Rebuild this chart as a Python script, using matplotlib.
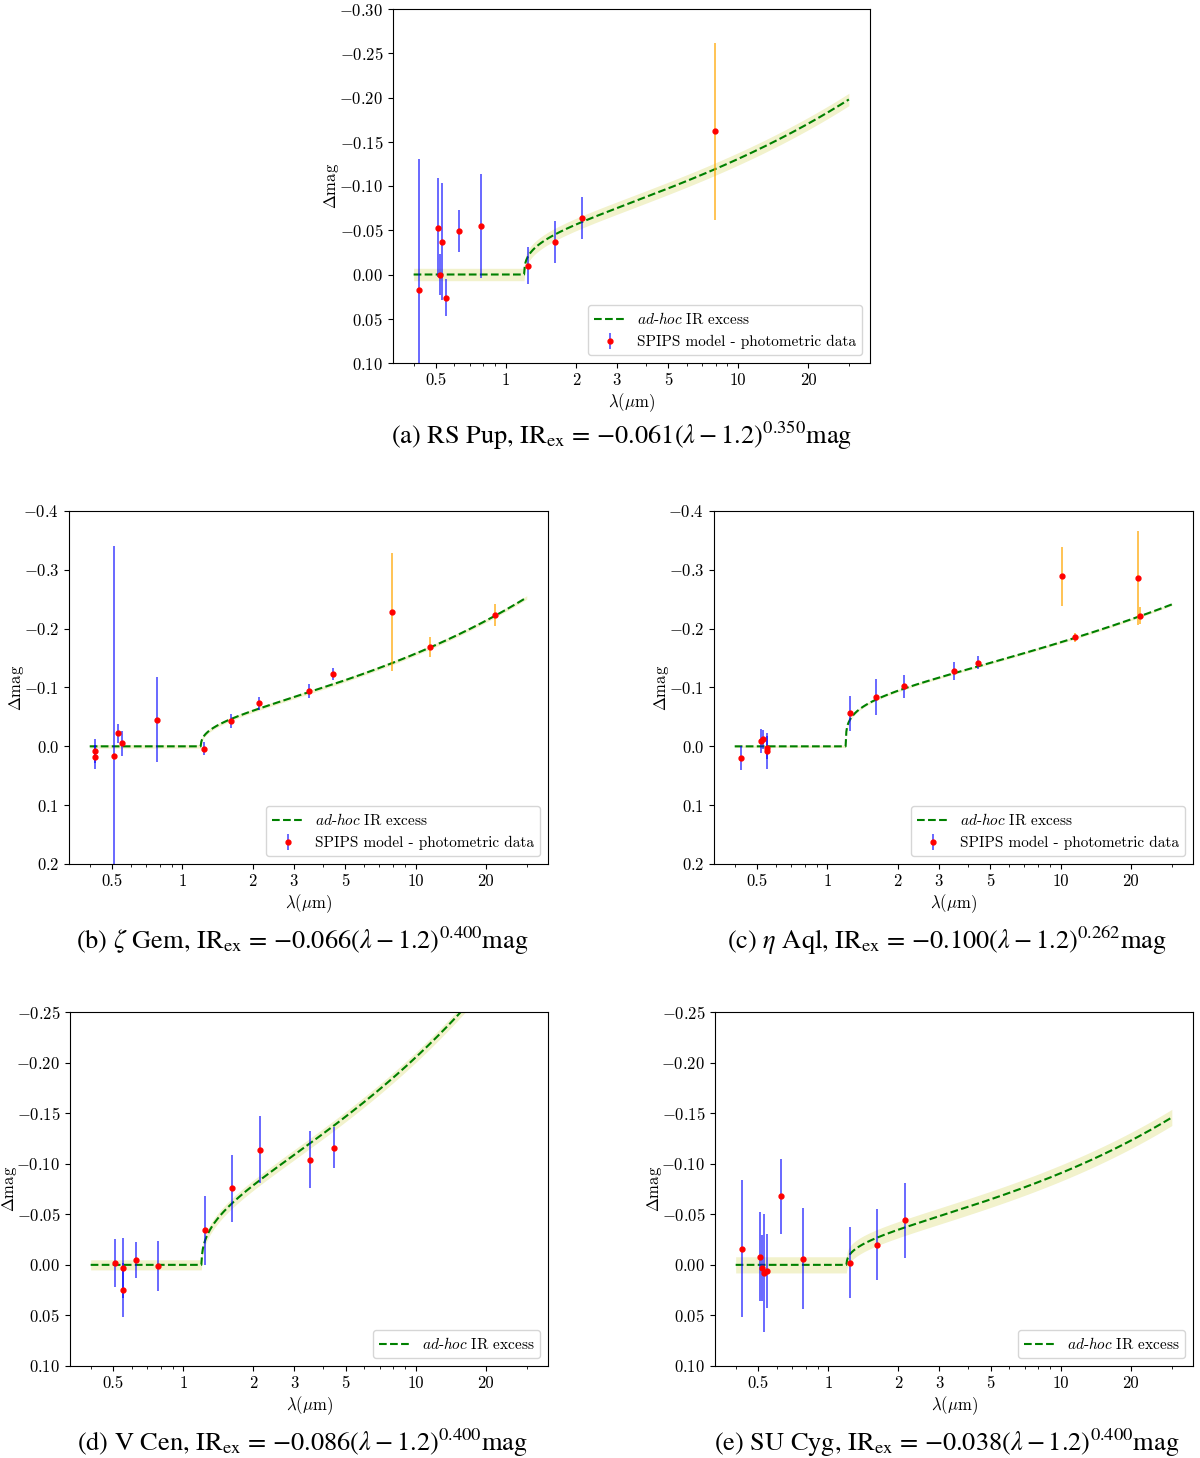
import matplotlib
matplotlib.use("Agg")
import matplotlib.pyplot as plt
import numpy as np
from matplotlib.ticker import FixedLocator, FixedFormatter, LogLocator, NullFormatter, MultipleLocator, FuncFormatter

plt.rcParams['font.family'] = 'serif'
plt.rcParams['font.serif'] = ['cmr10']
plt.rcParams['mathtext.fontset'] = 'cm'
plt.rcParams['axes.formatter.use_mathtext'] = True

# --- photometric residuals (SPIPS model - data) ---
rspup_lam = [0.424, 0.507, 0.521, 0.529, 0.550, 0.627, 0.779, 1.242, 1.623, 2.134, 7.96]
rspup_dmag = [0.017, -0.053, 0.000, -0.037, 0.026, -0.049, -0.055, -0.010, -0.037, -0.064, -0.162]
rspup_err = [0.147, 0.056, 0.023, 0.066, 0.021, 0.024, 0.059, 0.021, 0.024, 0.024, 0.100]

zgem_lam = [0.423, 0.423, 0.507, 0.529, 0.551, 0.777, 1.242, 1.615, 2.132, 3.506, 4.43, 7.91, 11.48, 21.93]
zgem_dmag = [0.008, 0.018, 0.017, -0.022, -0.005, -0.045, 0.004, -0.043, -0.073, -0.094, -0.123, -0.228, -0.168, -0.223]
zgem_err = [0.02, 0.02, 0.358, 0.016, 0.021, 0.072, 0.011, 0.012, 0.011, 0.0125, 0.01, 0.1, 0.017, 0.019]

etaaql_lam = [0.426, 0.518, 0.529, 0.55, 0.55, 1.246, 1.616, 2.132, 3.505, 4.43, 10.1, 11.53, 21.54, 21.93]
etaaql_dmag = [0.020, -0.009, -0.012, 0.002, 0.008, -0.056, -0.084, -0.102, -0.128, -0.142, -0.289, -0.185, -0.286, -0.222]
etaaql_err = [0.02, 0.02, 0.016, 0.02, 0.03, 0.03, 0.03, 0.02, 0.015, 0.011, 0.05, 0.007, 0.08, 0.014]

vcen_lam = [0.507, 0.55, 0.55, 0.625, 0.777, 1.243, 1.617, 2.134, 3.51, 4.44]
vcen_dmag = [-0.002, 0.003, 0.025, -0.005, 0.001, -0.034, -0.0755, -0.114, -0.104, -0.116]
vcen_err = [0.024, 0.03, 0.027, 0.018, 0.025, 0.034, 0.033, 0.033, 0.028, 0.02]

sucyg_lam = [0.426, 0.509, 0.52, 0.529, 0.548, 0.628, 0.777, 1.246, 1.616, 2.132]
sucyg_dmag = [-0.016, -0.008, 0.003, 0.008, 0.006, -0.068, -0.006, -0.002, -0.020, -0.044]
sucyg_err = [0.068, 0.044, 0.033, 0.058, 0.037, 0.037, 0.05, 0.035, 0.035, 0.037]

# ad-hoc IR excess law: IRex = amp * (lam - 1.2)**power
star_names = ['RS Pup', r'$\zeta$ Gem', r'$\eta$ Aql', 'V Cen', 'SU Cyg']
ir_amp = [-0.061, -0.066, -0.100, -0.086, -0.038]
ir_power = [0.350, 0.400, 0.262, 0.400, 0.400]
ir_band = [0.007, 0.003, 0.002, 0.005, 0.008]
ylims = [(0.10, -0.30), (0.2, -0.4), (0.2, -0.4), (0.10, -0.25), (0.10, -0.25)]
ysteps = [0.05, 0.1, 0.1, 0.05, 0.05]
yfmt = ['%.2f', '%.1f', '%.1f', '%.2f', '%.2f']
with_data_label = [True, True, True, False, False]

xticks = [0.5, 1, 2, 3, 5, 10, 20]
xticklabels = ['0.5', '1', '2', '3', '5', '10', '20']

W, H = 1200, 1458
# axes boxes in pixels: left, top, right, bottom
boxes = [(393, 9, 870, 363), (69, 511, 548, 864), (714, 511, 1193, 864),
         (70, 1012, 548, 1366), (715, 1012, 1193, 1366)]
ylabel_x = [-0.108, -0.09, -0.09, -0.107, -0.107]
captions_xy = [(622, 444), (302, 949), (947, 949), (302, 1451), (947, 1451)]
letters = ['a', 'b', 'c', 'd', 'e']

fig = plt.figure(figsize=(W / 100, H / 100), dpi=100)

datasets = [(rspup_lam, rspup_dmag, rspup_err), (zgem_lam, zgem_dmag, zgem_err),
            (etaaql_lam, etaaql_dmag, etaaql_err), (vcen_lam, vcen_dmag, vcen_err),
            (sucyg_lam, sucyg_dmag, sucyg_err)]


def ytick_fmt(f):
    def fmt(v, pos):
        if abs(v) < 1e-9:
            v = 0.0
        return '$' + (f % v) + '$'
    return FuncFormatter(fmt)


for i in range(5):
    l, t, r, b = boxes[i]
    ax = fig.add_axes([l / W, 1 - b / H, (r - l) / W, (b - t) / H])
    lam, dmag, err = [np.array(v) for v in datasets[i]]

    x = np.logspace(np.log10(0.4), np.log10(30), 600)
    ir = np.where(x > 1.2, ir_amp[i] * np.clip(x - 1.2, 0, None) ** ir_power[i], 0.0)
    ax.fill_between(x, ir - ir_band[i], ir + ir_band[i], color='y', alpha=0.2, lw=0)
    ax.plot(x, ir, '--', color='g', lw=1.5, label=r'$\mathit{ad}$-$\mathit{hoc}$ IR excess')

    blue = lam < 6
    lab = 'SPIPS model - photometric data' if with_data_label[i] else None
    ax.errorbar(lam[blue], dmag[blue], yerr=err[blue], fmt='o', color='red', ms=3.5,
                ecolor=(0, 0, 1, 0.75), elinewidth=1.1, label=lab)
    if (~blue).any():
        ax.errorbar(lam[~blue], dmag[~blue], yerr=err[~blue], fmt='o', color='red', ms=3.5,
                    ecolor=(1, 0.65, 0, 0.85), elinewidth=1.1)

    ax.set_xscale('log')
    ax.set_xlim(0.326, 37.0)
    ax.xaxis.set_major_locator(FixedLocator(xticks))
    ax.xaxis.set_major_formatter(FixedFormatter(xticklabels))
    ax.xaxis.set_minor_locator(LogLocator(subs=np.arange(2, 10)))
    ax.xaxis.set_minor_formatter(NullFormatter())
    ax.set_ylim(*ylims[i])
    ax.yaxis.set_major_locator(MultipleLocator(ysteps[i]))
    ax.yaxis.set_major_formatter(ytick_fmt(yfmt[i]))
    ax.tick_params(labelsize=12)
    ax.set_xlabel(r'$\lambda(\mu$m$)$', fontsize=12, labelpad=2)
    ax.set_ylabel(r'$\Delta$mag', fontsize=12)
    ax.yaxis.set_label_coords(ylabel_x[i], 0.5)
    ax.legend(loc='lower right', fontsize=11)

    cx, cy = captions_xy[i]
    fig.text(cx / W, 1 - cy / H,
             '(%s) %s, IR$_{\\rm ex}$ = $-%.3f(\\lambda - 1.2)^{%.3f}$mag'
             % (letters[i], star_names[i], -ir_amp[i], ir_power[i]),
             ha='center', va='baseline', fontsize=19, family='STIXGeneral',
             math_fontfamily='stix')

fig.savefig('out.png', dpi=100)
